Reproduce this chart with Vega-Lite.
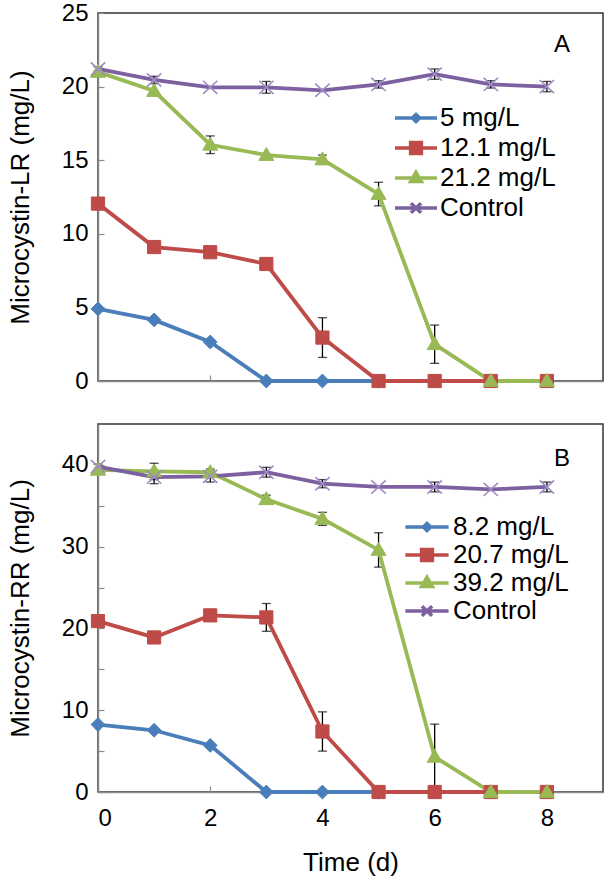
{
  "$schema": "https://vega.github.io/schema/vega-lite/v6.json",
  "padding": {"left": 6, "top": 0, "right": 0, "bottom": 0},
  "datasets": {
    "lr": [
      {"series": "5 mg/L", "t": 0, "c": 4.9, "err": 0},
      {"series": "5 mg/L", "t": 1, "c": 4.15, "err": 0},
      {"series": "5 mg/L", "t": 2, "c": 2.65, "err": 0},
      {"series": "5 mg/L", "t": 3, "c": 0, "err": 0},
      {"series": "5 mg/L", "t": 4, "c": 0, "err": 0},
      {"series": "5 mg/L", "t": 5, "c": 0, "err": 0},
      {"series": "5 mg/L", "t": 6, "c": 0, "err": 0},
      {"series": "5 mg/L", "t": 7, "c": 0, "err": 0},
      {"series": "5 mg/L", "t": 8, "c": 0, "err": 0},
      {"series": "12.1 mg/L", "t": 0, "c": 12.05, "err": 0},
      {"series": "12.1 mg/L", "t": 1, "c": 9.1, "err": 0},
      {"series": "12.1 mg/L", "t": 2, "c": 8.75, "err": 0},
      {"series": "12.1 mg/L", "t": 3, "c": 7.95, "err": 0},
      {"series": "12.1 mg/L", "t": 4, "c": 2.95, "err": 1.35},
      {"series": "12.1 mg/L", "t": 5, "c": 0, "err": 0},
      {"series": "12.1 mg/L", "t": 6, "c": 0, "err": 0},
      {"series": "12.1 mg/L", "t": 7, "c": 0, "err": 0},
      {"series": "12.1 mg/L", "t": 8, "c": 0, "err": 0},
      {"series": "21.2 mg/L", "t": 0, "c": 21.0, "err": 0},
      {"series": "21.2 mg/L", "t": 1, "c": 19.7, "err": 0},
      {"series": "21.2 mg/L", "t": 2, "c": 16.05, "err": 0.6},
      {"series": "21.2 mg/L", "t": 3, "c": 15.35, "err": 0},
      {"series": "21.2 mg/L", "t": 4, "c": 15.05, "err": 0.3},
      {"series": "21.2 mg/L", "t": 5, "c": 12.7, "err": 0.8},
      {"series": "21.2 mg/L", "t": 6, "c": 2.5, "err": 1.3},
      {"series": "21.2 mg/L", "t": 7, "c": 0, "err": 0},
      {"series": "21.2 mg/L", "t": 8, "c": 0, "err": 0},
      {"series": "Control", "t": 0, "c": 21.2, "err": 0.15},
      {"series": "Control", "t": 1, "c": 20.45, "err": 0.25},
      {"series": "Control", "t": 2, "c": 19.95, "err": 0},
      {"series": "Control", "t": 3, "c": 19.95, "err": 0.4},
      {"series": "Control", "t": 4, "c": 19.75, "err": 0},
      {"series": "Control", "t": 5, "c": 20.15, "err": 0.25},
      {"series": "Control", "t": 6, "c": 20.85, "err": 0.35},
      {"series": "Control", "t": 7, "c": 20.15, "err": 0.25},
      {"series": "Control", "t": 8, "c": 20.0, "err": 0.35}
    ],
    "rr": [
      {"series": "8.2 mg/L", "t": 0, "c": 8.25, "err": 0},
      {"series": "8.2 mg/L", "t": 1, "c": 7.55, "err": 0},
      {"series": "8.2 mg/L", "t": 2, "c": 5.7, "err": 0},
      {"series": "8.2 mg/L", "t": 3, "c": 0, "err": 0},
      {"series": "8.2 mg/L", "t": 4, "c": 0, "err": 0},
      {"series": "8.2 mg/L", "t": 5, "c": 0, "err": 0},
      {"series": "8.2 mg/L", "t": 6, "c": 0, "err": 0},
      {"series": "8.2 mg/L", "t": 7, "c": 0, "err": 0},
      {"series": "8.2 mg/L", "t": 8, "c": 0, "err": 0},
      {"series": "20.7 mg/L", "t": 0, "c": 20.9, "err": 0},
      {"series": "20.7 mg/L", "t": 1, "c": 18.9, "err": 0},
      {"series": "20.7 mg/L", "t": 2, "c": 21.6, "err": 0},
      {"series": "20.7 mg/L", "t": 3, "c": 21.35, "err": 1.7},
      {"series": "20.7 mg/L", "t": 4, "c": 7.4, "err": 2.4},
      {"series": "20.7 mg/L", "t": 5, "c": 0, "err": 0},
      {"series": "20.7 mg/L", "t": 6, "c": 0, "err": 0},
      {"series": "20.7 mg/L", "t": 7, "c": 0, "err": 0},
      {"series": "20.7 mg/L", "t": 8, "c": 0, "err": 0},
      {"series": "39.2 mg/L", "t": 0, "c": 39.4, "err": 0},
      {"series": "39.2 mg/L", "t": 1, "c": 39.2, "err": 1.0},
      {"series": "39.2 mg/L", "t": 2, "c": 39.1, "err": 0.4},
      {"series": "39.2 mg/L", "t": 3, "c": 35.8, "err": 0.5},
      {"series": "39.2 mg/L", "t": 4, "c": 33.4, "err": 0.8},
      {"series": "39.2 mg/L", "t": 5, "c": 29.6, "err": 2.1},
      {"series": "39.2 mg/L", "t": 6, "c": 4.3, "err": 4.0},
      {"series": "39.2 mg/L", "t": 7, "c": 0, "err": 0},
      {"series": "39.2 mg/L", "t": 8, "c": 0, "err": 0},
      {"series": "Control", "t": 0, "c": 39.8, "err": 0.3},
      {"series": "Control", "t": 1, "c": 38.5, "err": 0.8},
      {"series": "Control", "t": 2, "c": 38.6, "err": 0.7},
      {"series": "Control", "t": 3, "c": 39.1, "err": 0.6},
      {"series": "Control", "t": 4, "c": 37.7, "err": 0.5},
      {"series": "Control", "t": 5, "c": 37.3, "err": 0},
      {"series": "Control", "t": 6, "c": 37.3, "err": 0.6},
      {"series": "Control", "t": 7, "c": 37.0, "err": 0},
      {"series": "Control", "t": 8, "c": 37.3, "err": 0.6}
    ]
  },
  "spacing": 29,
  "resolve": {"scale": {"color": "independent", "y": "independent"}, "legend": {"color": "independent"}},
  "vconcat": [
    {
      "width": 505,
      "height": 368,
      "data": {"name": "lr"},
      "title": {"text": "A", "anchor": "end", "frame": "group", "dx": -33, "dy": 60},
      "encoding": {
        "x": {"field": "t", "type": "quantitative", "scale": {"domain": [0, 9], "nice": false, "zero": false}, "axis": {"values": [0, 2, 4, 6, 8], "labels": false, "title": null}},
        "y": {"field": "c", "type": "quantitative", "scale": {"domain": [0, 25], "nice": false}, "axis": {"values": [0, 5, 10, 15, 20, 25], "title": "Microcystin-LR (mg/L)"}}
      },
      "layer": [
        {
          "transform": [{"filter": "datum.err > 0"}],
          "mark": {"type": "errorbar", "ticks": {"size": 9, "thickness": 1.3, "color": "#000"}, "rule": {"strokeWidth": 1.3, "color": "#000"}},
          "encoding": {"yError": {"field": "err"}}
        },
        {
          "mark": {"type": "line", "strokeWidth": 3.8},
          "encoding": {
            "color": {"field": "series", "type": "nominal", "sort": null,
              "scale": {"domain": ["5 mg/L", "12.1 mg/L", "21.2 mg/L", "Control"], "range": ["#4A7EBB", "#BE4B48", "#98B954", "#7D60A0"]},
              "legend": {"orient": "none", "legendX": 305, "legendY": 92, "title": null, "padding": 0, "rowPadding": 4, "labelFontSize": 26, "labelOffset": 11, "symbolSize": 144, "symbolStrokeWidth": 3.5,
                "encode": {"symbols": {"update": {
                  "shape": {"signal": "['M-3.5,0H3.5M0,-0.6L0.6,0L0,0.6L-0.6,0Z','M-3.5,0H3.5M-0.9,-0.9H0.9V0.9H-0.9Z','M-3.5,0H3.5M0,-0.95L0.9,0.6H-0.9Z','M-3.5,0H3.5M-0.85,-0.8L0.85,0.8M-0.85,0.8L0.85,-0.8'][indexof(['5 mg/L','12.1 mg/L','21.2 mg/L','Control'], datum.label)]"},
                  "fill": {"signal": "['#4A7EBB','#BE4B48','#98B954','#7D60A0'][indexof(['5 mg/L','12.1 mg/L','21.2 mg/L','Control'], datum.label)]"},
                  "stroke": {"signal": "['#4A7EBB','#BE4B48','#98B954','#7D60A0'][indexof(['5 mg/L','12.1 mg/L','21.2 mg/L','Control'], datum.label)]"},
                  "strokeWidth": {"value": 3.5},
                  "opacity": {"value": 1}
                }}}
              }
            }
          }
        },
        {"transform": [{"filter": "datum.series === '5 mg/L'"}], "mark": {"type": "point", "filled": true, "size": 144, "opacity": 1, "fill": "#4A7EBB", "stroke": "#4A7EBB", "strokeWidth": 1, "shape": "M0,-1.15L1.15,0L0,1.15L-1.15,0Z"}},
        {"transform": [{"filter": "datum.series === '12.1 mg/L'"}], "mark": {"type": "point", "filled": true, "size": 144, "opacity": 1, "fill": "#BE4B48", "stroke": "#BE4B48", "strokeWidth": 1, "shape": "M-1.1,-1.1H1.1V1.1H-1.1Z"}},
        {"transform": [{"filter": "datum.series === '21.2 mg/L'"}], "mark": {"type": "point", "filled": true, "size": 144, "opacity": 1, "fill": "#98B954", "stroke": "#98B954", "strokeWidth": 1, "shape": "M0,-1.25L1.25,0.9H-1.25Z"}},
        {"transform": [{"filter": "datum.series === 'Control'"}], "mark": {"type": "point", "filled": false, "size": 144, "opacity": 1, "stroke": "#9F8CC4", "strokeWidth": 1.6, "shape": "M-1.2,-1.1L1.2,1.1M-1.2,1.1L1.2,-1.1"}}
      ]
    },
    {
      "width": 505,
      "height": 368,
      "data": {"name": "rr"},
      "title": {"text": "B", "anchor": "end", "frame": "group", "dx": -33, "dy": 51},
      "encoding": {
        "x": {"field": "t", "type": "quantitative", "scale": {"domain": [0, 9], "nice": false, "zero": false}, "axis": {"values": [0, 2, 4, 6, 8], "title": "Time (d)", "labelPadding": 20, "titlePadding": 19}},
        "y": {"field": "c", "type": "quantitative", "scale": {"domain": [0, 45], "nice": false}, "axis": {"values": [0, 5, 10, 15, 20, 25, 30, 35, 40], "labelExpr": "datum.value % 10 === 0 ? datum.label : ''", "title": "Microcystin-RR (mg/L)"}}
      },
      "layer": [
        {
          "transform": [{"filter": "datum.err > 0"}],
          "mark": {"type": "errorbar", "ticks": {"size": 9, "thickness": 1.3, "color": "#000"}, "rule": {"strokeWidth": 1.3, "color": "#000"}},
          "encoding": {"yError": {"field": "err"}}
        },
        {
          "mark": {"type": "line", "strokeWidth": 3.8},
          "encoding": {
            "color": {"field": "series", "type": "nominal", "sort": null,
              "scale": {"domain": ["8.2 mg/L", "20.7 mg/L", "39.2 mg/L", "Control"], "range": ["#4A7EBB", "#BE4B48", "#98B954", "#7D60A0"]},
              "legend": {"orient": "none", "legendX": 316, "legendY": 90, "title": null, "padding": 0, "rowPadding": 2, "labelFontSize": 26, "labelOffset": 13, "symbolSize": 144, "symbolStrokeWidth": 3.5,
                "encode": {"symbols": {"update": {
                  "shape": {"signal": "['M-3.6,0H3.6M0,-0.6L0.6,0L0,0.6L-0.6,0Z','M-3.6,0H3.6M-0.9,-0.9H0.9V0.9H-0.9Z','M-3.6,0H3.6M0,-0.95L0.9,0.6H-0.9Z','M-3.6,0H3.6M-0.85,-0.8L0.85,0.8M-0.85,0.8L0.85,-0.8'][indexof(['8.2 mg/L','20.7 mg/L','39.2 mg/L','Control'], datum.label)]"},
                  "fill": {"signal": "['#4A7EBB','#BE4B48','#98B954','#7D60A0'][indexof(['8.2 mg/L','20.7 mg/L','39.2 mg/L','Control'], datum.label)]"},
                  "stroke": {"signal": "['#4A7EBB','#BE4B48','#98B954','#7D60A0'][indexof(['8.2 mg/L','20.7 mg/L','39.2 mg/L','Control'], datum.label)]"},
                  "strokeWidth": {"value": 3.5},
                  "opacity": {"value": 1}
                }}}
              }
            }
          }
        },
        {"transform": [{"filter": "datum.series === '8.2 mg/L'"}], "mark": {"type": "point", "filled": true, "size": 144, "opacity": 1, "fill": "#4A7EBB", "stroke": "#4A7EBB", "strokeWidth": 1, "shape": "M0,-1.15L1.15,0L0,1.15L-1.15,0Z"}},
        {"transform": [{"filter": "datum.series === '20.7 mg/L'"}], "mark": {"type": "point", "filled": true, "size": 144, "opacity": 1, "fill": "#BE4B48", "stroke": "#BE4B48", "strokeWidth": 1, "shape": "M-1.1,-1.1H1.1V1.1H-1.1Z"}},
        {"transform": [{"filter": "datum.series === '39.2 mg/L'"}], "mark": {"type": "point", "filled": true, "size": 144, "opacity": 1, "fill": "#98B954", "stroke": "#98B954", "strokeWidth": 1, "shape": "M0,-1.25L1.25,0.9H-1.25Z"}},
        {"transform": [{"filter": "datum.series === 'Control'"}], "mark": {"type": "point", "filled": false, "size": 144, "opacity": 1, "stroke": "#9F8CC4", "strokeWidth": 1.6, "shape": "M-1.2,-1.1L1.2,1.1M-1.2,1.1L1.2,-1.1"}}
      ]
    }
  ],
  "config": {
    "font": "Liberation Sans",
    "background": "white",
    "view": {"stroke": "#333", "strokeWidth": 1.5},
    "axis": {"grid": false, "domainColor": "#8c8c8c", "domainWidth": 1.5, "tickColor": "#8c8c8c", "tickWidth": 1.2, "tickSize": -6, "labelPadding": 16, "labelFontSize": 24, "labelColor": "#000", "labelFont": "Liberation Sans", "titleFontSize": 26, "titleFontWeight": "normal", "titleColor": "#000", "titleFont": "Liberation Sans", "titlePadding": 28},
    "legend": {"labelColor": "#000", "labelFont": "Liberation Sans"},
    "title": {"fontSize": 24, "fontWeight": "normal", "color": "#000", "font": "Liberation Sans"}
  }
}
